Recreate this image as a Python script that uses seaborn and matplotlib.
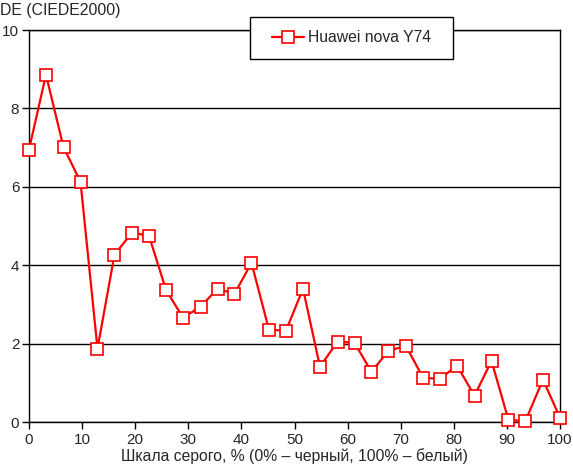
import matplotlib
matplotlib.use("Agg")
import matplotlib.pyplot as plt
from matplotlib.patches import Rectangle
import seaborn as sns
import pandas as pd

# grey level, % and DE values
gray_level = [0.0, 3.2, 6.5, 9.7, 12.9, 16.1, 19.4, 22.6, 25.8, 29.0, 32.3,
              35.5, 38.7, 41.9, 45.2, 48.4, 51.6, 54.8, 58.1, 61.3, 64.5,
              67.7, 71.0, 74.2, 77.4, 80.6, 83.9, 87.1, 90.3, 93.5, 96.8, 100.0]
de_values = [6.95, 8.86, 7.01, 6.13, 1.87, 4.27, 4.83, 4.75, 3.37, 2.66, 2.94,
             3.40, 3.27, 4.06, 2.35, 2.33, 3.40, 1.41, 2.05, 2.02, 1.28,
             1.82, 1.94, 1.13, 1.10, 1.44, 0.67, 1.56, 0.05, 0.03, 1.08, 0.11]
series_name = "Huawei nova Y74"
x_ticks = [0, 10, 20, 30, 40, 50, 60, 70, 80, 90, 100]
y_ticks = [0, 2, 4, 6, 8, 10]

df = pd.DataFrame({"x": gray_level, "y": de_values})

sns.set_style("white")
plt.rcParams['font.family'] = ['Liberation Sans', 'DejaVu Sans']
plt.rcParams['font.size'] = 11

fig = plt.figure(figsize=(5.73, 4.72), dpi=100)
ax = fig.add_axes([29 / 573, 1 - 422 / 472, (560 - 29) / 573, (422 - 30) / 472])

sns.lineplot(data=df, x="x", y="y", ax=ax, color="red", linewidth=1.6,
             marker="s", markersize=9, markerfacecolor="white",
             markeredgecolor="red", markeredgewidth=1.2, label=series_name,
             clip_on=False, zorder=3)

ax.set_xlim(0, 100)
ax.set_ylim(0, 10)
ax.set_xticks(x_ticks)
ax.set_yticks(y_ticks)
ax.yaxis.grid(True, color="black", linewidth=1)
ax.xaxis.grid(False)
for s in ax.spines.values():
    s.set_color("black")
    s.set_linewidth(1)
ax.tick_params(axis="both", direction="out", length=5, width=1, color="black",
               labelsize=11, pad=3)
ax.tick_params(axis="x", bottom=True)
ax.tick_params(axis="y", left=True, pad=2)

ax.set_xlabel("Шкала серого, % (0% – черный, 100% – белый)", fontsize=11.3, labelpad=1)
ax.set_ylabel("")
fig.text(0.0, 1 - 10 / 472, "DE (CIEDE2000)", fontsize=11.4, ha="left", va="center")

# legend box, drawn as a plain rectangle so it can be wider than the content
box = Rectangle((250 / 573, 1 - 59 / 472), 203 / 573, 42 / 472,
                transform=fig.transFigure, facecolor="white", edgecolor="black",
                linewidth=1, zorder=4, clip_on=False)
ax.add_artist(box)

leg = ax.legend(loc="center", bbox_to_anchor=(352 / 573, 1 - 38 / 472),
                bbox_transform=fig.transFigure, frameon=False, fontsize=11.3,
                handlelength=2.0, handletextpad=0.3, borderpad=0, borderaxespad=0)
leg.set_zorder(5)

fig.savefig("out.png", dpi=100)
